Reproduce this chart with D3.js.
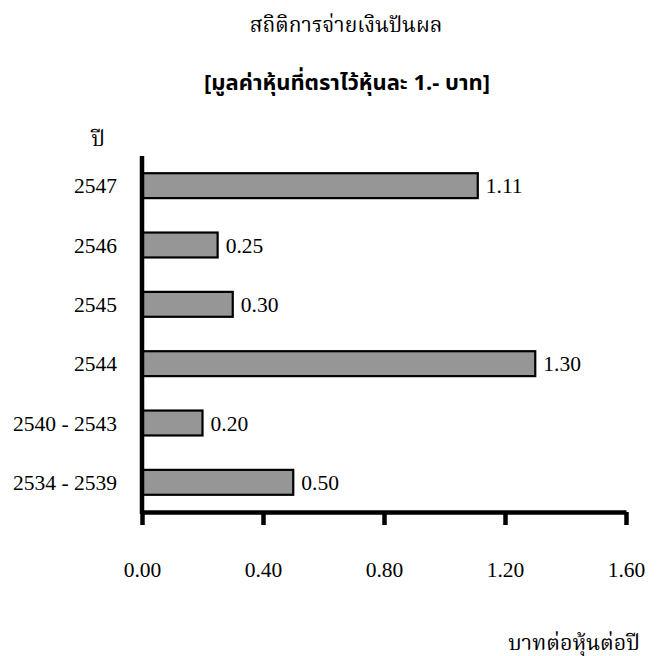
<!DOCTYPE html>
<html>
<head>
<meta charset="utf-8">
<script src="https://cdn.jsdelivr.net/npm/d3@7"></script>
<style>
  body { margin: 0; background: #fff; }
  svg text { font-family: "Liberation Serif", "Noto Serif Thai", "Noto Sans Thai", serif; fill: #000; }
</style>
</head>
<body>
<div id="main"></div>
<script>
const categories = ["2547", "2546", "2545", "2544", "2540 - 2543", "2534 - 2539"]
const dividends = [1.11, 0.25, 0.30, 1.30, 0.20, 0.50]
const xTicks = [0, 0.4, 0.8, 1.2, 1.6]

const width = 657, height = 656
const plotLeft = 142, plotRight = 626, plotTop = 156, plotBottom = 512
const fontSize = '21.5px'

let svg = d3.select('#main')
            .append('svg')
            .attr('width', width)
            .attr('height', height)

let xScale = d3.scaleLinear().domain([0, 1.6]).range([plotLeft, plotRight])
let yScale = d3.scaleBand().domain(categories).range([plotTop, plotBottom])
               .paddingInner(0.58).paddingOuter(0.29)

// titles
svg.append('text')
    .attr('x', 346).attr('y', 32)
    .style('text-anchor', 'middle')
    .style('font-size', '21px')
    .text('สถิติการจ่ายเงินปันผล')

svg.append('text')
    .attr('x', 347).attr('y', 90)
    .style('text-anchor', 'middle')
    .style('font-size', '22px')
    .style('font-weight', 'bold')
    .style('font-family', '"Noto Sans", "Noto Sans Thai", sans-serif')
    .text('[มูลค่าหุ้นที่ตราไว้หุ้นละ 1.- บาท]')

svg.append('text')
    .attr('x', 98).attr('y', 146)
    .style('text-anchor', 'middle')
    .style('font-size', fontSize)
    .text('ปี')

svg.append('text')
    .attr('x', 640).attr('y', 650)
    .style('text-anchor', 'end')
    .style('font-size', fontSize)
    .text('บาทต่อหุ้นต่อปี')

// bars
let data = categories.map((c, i) => ({ cat: c, val: dividends[i] }))

svg.selectAll('rect.bar')
    .data(data)
    .enter()
    .append('rect')
    .classed('bar', true)
    .attr('x', xScale(0))
    .attr('y', (d) => yScale(d.cat))
    .attr('width', (d) => xScale(d.val) - xScale(0))
    .attr('height', yScale.bandwidth())
    .style('fill', '#969696')
    .style('stroke', '#000')
    .style('stroke-width', 2.2)

svg.selectAll('text.val')
    .data(data)
    .enter()
    .append('text')
    .classed('val', true)
    .attr('x', (d) => xScale(d.val) + 8)
    .attr('y', (d) => yScale(d.cat) + yScale.bandwidth() / 2)
    .attr('dy', '.35em')
    .style('font-size', fontSize)
    .text((d) => d.val.toFixed(2))

// category labels
svg.selectAll('text.cat')
    .data(categories)
    .enter()
    .append('text')
    .classed('cat', true)
    .attr('x', 117)
    .attr('y', (d) => yScale(d) + yScale.bandwidth() / 2)
    .attr('dy', '.35em')
    .style('text-anchor', 'end')
    .style('font-size', fontSize)
    .text((d) => d)

// axes
let xAxis = d3.axisBottom(xScale)
              .tickValues(xTicks)
              .tickFormat(d3.format('.2f'))
              .tickSizeInner(13)
              .tickSizeOuter(0)
              .tickPadding(37)

let gx = svg.append('g')
    .attr('transform', `translate(0, ${plotBottom})`)
    .call(xAxis)

gx.select('.domain').attr('stroke', '#000').attr('stroke-width', 4.5)
gx.selectAll('.tick line').attr('stroke', '#000').attr('stroke-width', 4.5)
gx.selectAll('.tick text')
    .style('font-size', fontSize)
    .style('font-family', '"Liberation Serif", serif')

svg.append('line')
    .attr('x1', plotLeft).attr('x2', plotLeft)
    .attr('y1', plotTop).attr('y2', plotBottom + 2)
    .attr('stroke', '#000')
    .attr('stroke-width', 4.5)
</script>
</body>
</html>
